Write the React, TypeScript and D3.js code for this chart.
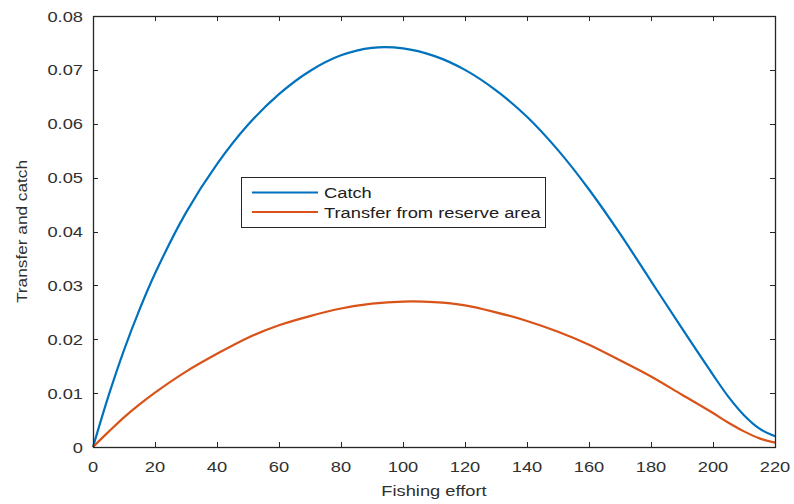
import React, { useEffect, useRef } from "react";
import * as d3 from "d3";

// fishing effort grid
const effort = [0, 5, 10, 15, 20, 30, 40, 50, 60, 70, 80, 90, 100, 110, 120, 130, 140, 150, 160, 170, 180, 190, 200, 205, 210, 215, 220];
// catch curve
const catchVals = [0, 0.0095, 0.018, 0.0255, 0.0322, 0.0435, 0.0525, 0.0598, 0.0655, 0.0698, 0.0727, 0.0741, 0.074, 0.0726, 0.07, 0.0662, 0.0613, 0.0551, 0.0478, 0.0396, 0.0308, 0.022, 0.0134, 0.0093, 0.0059, 0.0034, 0.002];
// transfer from reserve area
const transferVals = [0, 0.0028, 0.0055, 0.0079, 0.0101, 0.014, 0.0173, 0.0203, 0.0226, 0.0243, 0.0257, 0.0266, 0.027, 0.0269, 0.0263, 0.025, 0.0234, 0.0214, 0.019, 0.0161, 0.0131, 0.0097, 0.0063, 0.0045, 0.0029, 0.0016, 0.0008];

const xTicks = [0, 20, 40, 60, 80, 100, 120, 140, 160, 180, 200, 220];
const yTicks = [0, 0.01, 0.02, 0.03, 0.04, 0.05, 0.06, 0.07, 0.08];
const seriesNames = ["Catch", "Transfer from reserve area"];
const colors = ["#0072BD", "#D95319"];

const W = 794, H = 504;
const m = { left: 93, right: 775, top: 16, bottom: 447 };
const FONT = "'Liberation Sans', Arial, Helvetica, sans-serif";
const SX = 1.22; // text in the picture is stretched sideways

export default function App() {
  const ref = useRef<SVGSVGElement>(null);

  useEffect(() => {
    const svg = d3.select(ref.current);
    svg.selectAll("*").remove();

    const x = d3.scaleLinear().domain([0, 220]).range([m.left, m.right]);
    const y = d3.scaleLinear().domain([0, 0.08]).range([m.bottom, m.top]);

    svg.append("rect").attr("width", W).attr("height", H).attr("fill", "#fff");

    const ink = "#262626";
    const tl = 5;

    // ticks (inward, mirrored on top / right like matlab)
    const tg = svg.append("g").attr("stroke", ink).attr("stroke-width", 1);
    xTicks.forEach((t) => {
      const px = Math.round(x(t)) + 0.5;
      tg.append("line").attr("x1", px).attr("x2", px).attr("y1", m.bottom).attr("y2", m.bottom - tl);
      tg.append("line").attr("x1", px).attr("x2", px).attr("y1", m.top).attr("y2", m.top + tl);
    });
    yTicks.forEach((t) => {
      const py = Math.round(y(t)) + 0.5;
      tg.append("line").attr("x1", m.left).attr("x2", m.left + tl).attr("y1", py).attr("y2", py);
      tg.append("line").attr("x1", m.right).attr("x2", m.right - tl).attr("y1", py).attr("y2", py);
    });

    const label = (txt: string, px: number, py: number, anchor: string) =>
      svg.append("text")
        .attr("transform", `translate(${px},${py}) scale(${SX},1)`)
        .attr("text-anchor", anchor)
        .attr("font-family", FONT)
        .attr("font-size", 15)
        .attr("fill", "#303030")
        .text(txt);

    xTicks.forEach((t) => label(String(t), x(t), 472, "middle"));
    yTicks.forEach((t) => label(t === 0 ? "0" : t.toFixed(2), 83, y(t) + 5.5, "end"));

    // curves
    const line = d3.line<[number, number]>()
      .x((d) => x(d[0]))
      .y((d) => y(d[1]))
      .curve(d3.curveCatmullRom.alpha(0.5));
    [catchVals, transferVals].forEach((vals, i) => {
      svg.append("path")
        .attr("d", line(effort.map((e, j) => [e, vals[j]] as [number, number])))
        .attr("fill", "none")
        .attr("stroke", colors[i])
        .attr("stroke-width", 2.2)
        .attr("stroke-linejoin", "round");
    });

    // axes box
    svg.append("rect")
      .attr("x", m.left + 0.5).attr("y", m.top + 0.5)
      .attr("width", m.right - m.left).attr("height", m.bottom - m.top)
      .attr("fill", "none").attr("stroke", ink).attr("stroke-width", 1.3);

    // axis titles
    svg.append("text")
      .attr("transform", `translate(${(m.left + m.right) / 2},496) scale(${SX},1)`)
      .attr("text-anchor", "middle")
      .attr("font-family", FONT).attr("font-size", 15).attr("fill", "#303030")
      .text("Fishing effort");
    svg.append("text")
      .attr("transform", `translate(27,${(m.top + m.bottom) / 2}) rotate(-90) scale(1.15,1)`)
      .attr("text-anchor", "middle")
      .attr("font-family", FONT).attr("font-size", 15).attr("fill", "#303030")
      .text("Transfer and catch");

    // legend
    const lg = svg.append("g");
    lg.append("rect")
      .attr("x", 241.5).attr("y", 177.5).attr("width", 304).attr("height", 50)
      .attr("fill", "#fff").attr("stroke", ink).attr("stroke-width", 1);
    seriesNames.forEach((n, i) => {
      const ly = 192.5 + i * 19.5;
      lg.append("line").attr("x1", 252).attr("x2", 318).attr("y1", ly).attr("y2", ly)
        .attr("stroke", colors[i]).attr("stroke-width", 2.2);
      lg.append("text")
        .attr("transform", `translate(324,${ly + 5.5}) scale(${SX},1)`)
        .attr("font-family", FONT).attr("font-size", 15).attr("fill", "#202020")
        .text(n);
    });
  }, []);

  return (
    <svg ref={ref} width={W} height={H}
      style={{ position: "absolute", left: 0, top: 0, display: "block" }} />
  );
}
